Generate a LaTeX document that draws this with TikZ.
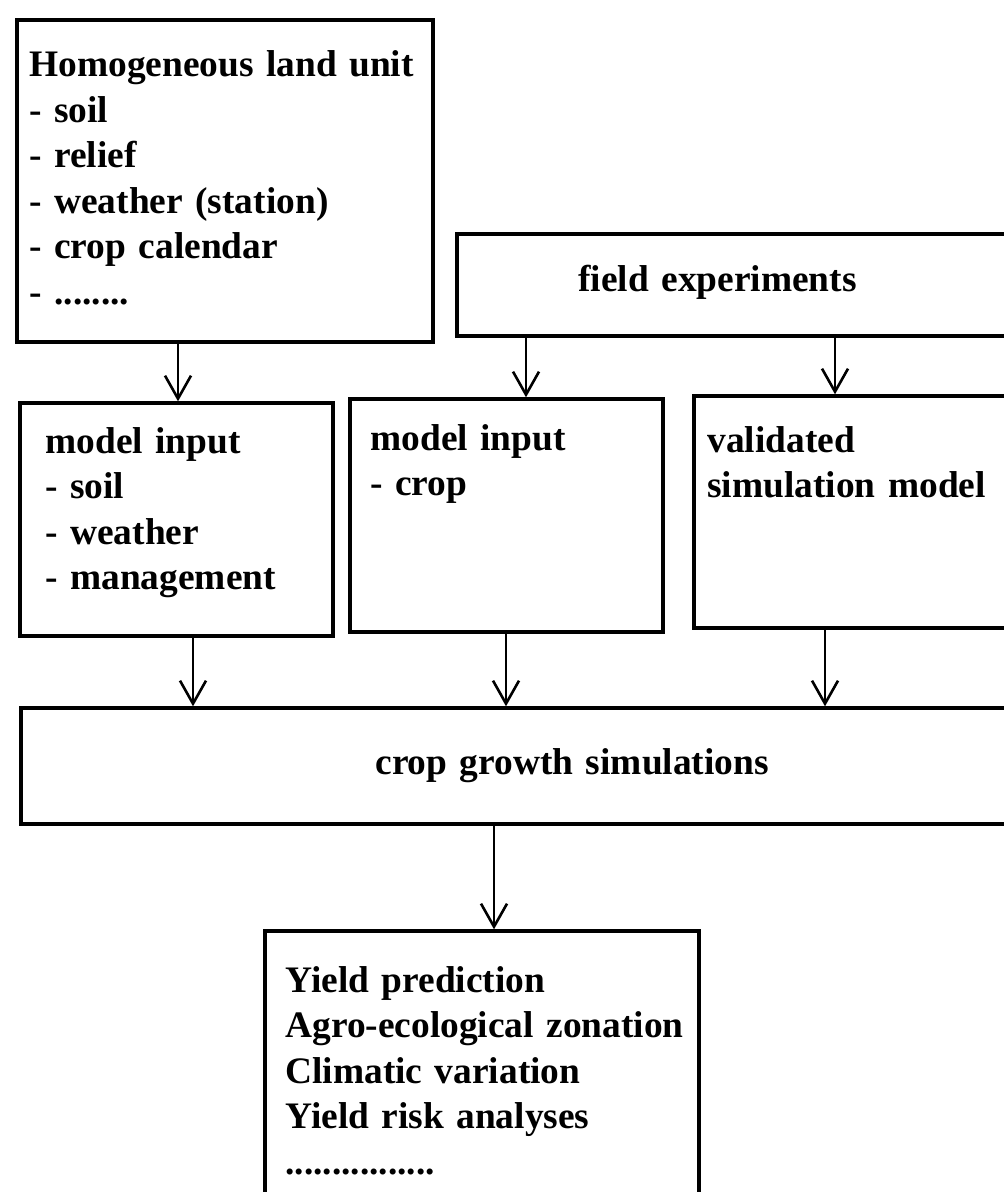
\documentclass[tikz,border=0pt]{standalone}
\usepackage{fontspec}
\setmainfont{Liberation Serif}[WordSpace=0.75]
\usetikzlibrary{arrows.meta}
\begin{document}
\begin{tikzpicture}[x=0.5pt,y=-0.5pt,
  box/.style={draw=black, line width=1.7pt, rectangle, inner sep=0pt},
  txt/.style={inner sep=0pt, anchor=base west, text width=260pt, align=left,
    font=\fontsize{18.7pt}{22.75pt}\selectfont\bfseries},
  arr/.style={draw=black, line width=1.3pt, -{Straight Barb[length=11.5pt,width=13pt,line width=1.3pt]}}]
\clip (0,0) rectangle (1004,1192);
\fill[white] (0,0) rectangle (1004,1192);
% boxes
\node[box, minimum width=208pt, minimum height=161pt] (land) at (225,181) {};
\node[box, minimum width=291.5pt, minimum height=51pt] (field) at (748.5,285) {};
\node[box, minimum width=156.5pt, minimum height=116.5pt] (mis) at (176.5,519.5) {};
\node[box, minimum width=156.5pt, minimum height=116.5pt] (mic) at (506.5,515.5) {};
\node[box, minimum width=173pt, minimum height=116pt] (val) at (867,512) {};
\node[box, minimum width=509.5pt, minimum height=58pt] (cgs) at (530.5,766) {};
\node[box, minimum width=217pt, minimum height=139.5pt] (yield) at (482,1070.5) {};
% texts
\node[txt] (tland) at (29,77) {Homogeneous land unit\\- soil\\- relief\\- weather (station)\\- crop calendar\\- ........};
\node[txt] (tfield) at (578,292) {field experiments};
\node[txt] (tmis) at (45,453) {model input\\- soil\\- weather\\- management};
\node[txt] (tmic) at (370,450) {model input\\- crop};
\node[txt] (tval) at (707,452) {validated\\simulation model};
\node[txt] (tcgs) at (375,774) {crop growth simulations};
\node[txt] (tyield) at (285,992) {Yield prediction\\Agro-ecological zonation\\Climatic variation\\Yield risk analyses\\................};
% arrow x positions
\coordinate (a1) at (178,0);
\coordinate (a2) at (526,0);
\coordinate (a3) at (835,0);
\coordinate (a4) at (193,0);
\coordinate (a5) at (506,0);
\coordinate (a6) at (825,0);
\coordinate (a7) at (494,0);
% connectors
\draw[arr] (a1 |- land.south) -- (a1 |- mis.north);
\draw[arr] (a2 |- field.south) -- (a2 |- mic.north);
\draw[arr] (a3 |- field.south) -- (a3 |- val.north);
\draw[arr] (a4 |- mis.south) -- (a4 |- cgs.north);
\draw[arr] (a5 |- mic.south) -- (a5 |- cgs.north);
\draw[arr] (a6 |- val.south) -- (a6 |- cgs.north);
\draw[arr] (a7 |- cgs.south) -- (a7 |- yield.north);
\end{tikzpicture}
\end{document}
